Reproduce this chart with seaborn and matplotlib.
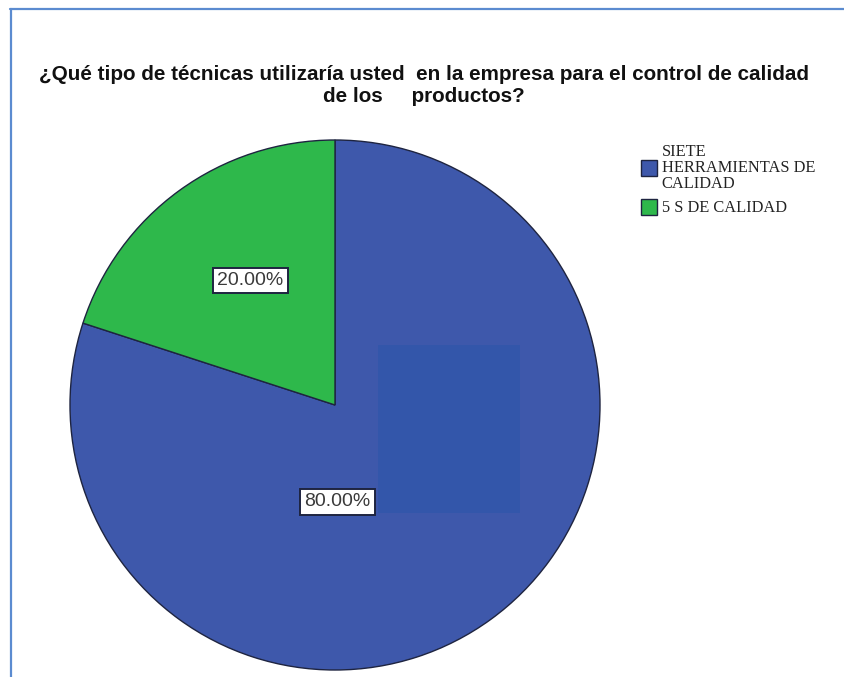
import matplotlib
matplotlib.use("Agg")
import matplotlib.pyplot as plt
import seaborn as sns
from matplotlib.patches import Rectangle
from matplotlib.lines import Line2D

categories = ["SIETE\nHERRAMIENTAS DE\nCALIDAD", "5 S DE CALIDAD"]
values = [80.0, 20.0]
colors = ["#3E58AB", "#2EB84B"]
title_lines = ["¿Qué tipo de técnicas utilizaría usted  en la empresa para el control de calidad",
               "de los     productos?"]

sns.set_theme(style="white")
plt.rcParams['font.family'] = ['Liberation Sans', 'DejaVu Sans']

W, H = 844, 677
fig = plt.figure(figsize=(W / 100, H / 100), dpi=100)
fig.patch.set_facecolor("white")

# frame lines (top and left)
fig.add_artist(Line2D([10 / W, 1], [1 - 9 / H, 1 - 9 / H], color="#5B8BD0", lw=1.6, transform=fig.transFigure))
fig.add_artist(Line2D([10.5 / W, 10.5 / W], [0, 1 - 9 / H], color="#5B8BD0", lw=1.6, transform=fig.transFigure))

cx, cy, r = 335, 405, 265
ax = fig.add_axes([(cx - r) / W, (H - cy - r) / H, 2 * r / W, 2 * r / H])
wedges, texts, autotexts = ax.pie(
    values, colors=colors, startangle=90, counterclock=False,
    autopct="%.2f%%", pctdistance=0.57, radius=1.0,
    wedgeprops=dict(edgecolor="#1E2440", linewidth=1.0),
    textprops=dict(family=["Liberation Sans", "DejaVu Sans"], fontsize=14, color="#3A3A3A"),
)
ax.set_xlim(-1, 1)
ax.set_ylim(-1, 1)
ax.set_aspect("equal")
ax.axis("off")

# label positions as in the reference
label_pos = [(0.01, -0.366), (-0.32, 0.47)]
for t, p in zip(autotexts, label_pos):
    t.set_position(p)
    t.set_ha("center")
    t.set_va("center")
    t.set_bbox(dict(boxstyle="square,pad=0.22", facecolor="white", edgecolor="#1E2440", linewidth=1.4))

# compression artifact block in the reference
ax.add_patch(Rectangle((0.162, -0.408), 0.536, 0.634, facecolor="#3356AA", edgecolor="none", zorder=1.5))
for t in autotexts:
    t.set_zorder(3)

fig.text(424 / W, 1 - 75 / H, title_lines[0], ha="center", va="center", fontsize=14.9, fontweight="bold", color="#111111")
fig.text(424 / W, 1 - 97 / H, title_lines[1], ha="center", va="center", fontsize=14.9, fontweight="bold", color="#111111")

leg = fig.legend(wedges, categories, loc="upper left", bbox_to_anchor=(634 / W, 1 - 137 / H),
                 frameon=False, prop=dict(family=["Liberation Serif", "DejaVu Serif"], size=11.8),
                 handlelength=1.0, handleheight=1.1, handletextpad=0.3, labelspacing=0.45, borderaxespad=0)
for t in leg.get_texts():
    t.set_linespacing(1.0)
    t.set_color("#222222")

fig.savefig("out.png", dpi=100, facecolor="white")
